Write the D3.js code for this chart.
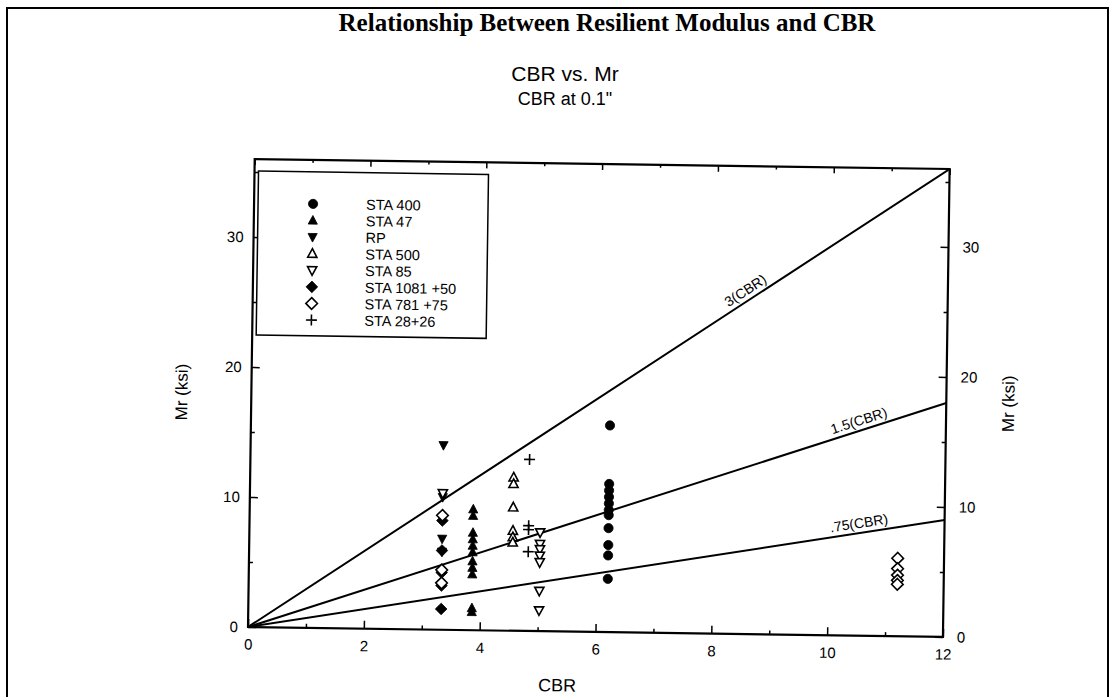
<!DOCTYPE html>
<html>
<head>
<meta charset="utf-8">
<script src="https://cdn.jsdelivr.net/npm/d3@7"></script>
<style>
  body { margin: 0; background: #fff; }
  text { font-family: "Liberation Sans", Arial, sans-serif; fill: #000; }
</style>
</head>
<body>
<script>
// CBR vs Mr scatter, redrawn from a scanned figure

//axis ticks
var xMajor = [0, 2, 4, 6, 8, 10, 12];
var xMinor = [1, 3, 5, 7, 9, 11];
var yMajor = [0, 10, 20, 30];
var yMinor = [5, 15, 25, 35];

//legend labels, same order as the series below
var seriesNames = ["STA 400", "STA 47", "RP", "STA 500", "STA 85", "STA 1081 +50", "STA 781 +75", "STA 28+26"];
var seriesShapes = ["circle", "triUp", "triDown", "triUpOpen", "triDownOpen", "diamond", "diamondOpen", "plus"];

//points as [CBR, Mr (ksi)]
var sta400 = [[6.2,15.9],[6.2,11.4],[6.2,10.9],[6.2,10.4],[6.2,9.9],[6.2,9.4],[6.2,9.0],[6.2,8.0],[6.2,6.7],[6.2,5.9],[6.2,4.1]];
var sta47 = [[3.86,9.3],[3.86,8.8],[3.86,7.5],[3.86,7.0],[3.86,6.5],[3.86,6.0],[3.86,5.3],[3.86,4.8],[3.86,4.3],[3.86,1.7],[3.86,1.4]];
var rp = [[3.33,14.2],[3.33,10.2],[3.33,7.0],[3.33,6.0]];
var sta500 = [[4.55,11.8],[4.55,11.3],[4.55,9.5],[4.55,7.7],[4.55,7.2],[4.55,6.8]];
var sta85 = [[3.33,10.5],[5.02,7.6],[5.02,6.7],[5.02,6.3],[5.02,5.8],[5.02,5.3],[5.02,3.1],[5.02,1.6]];
var sta1081 = [[3.33,8.4],[3.33,6.1],[3.33,4.4],[3.33,3.4],[3.33,1.6]];
var sta781 = [[3.33,8.8],[3.33,4.6],[3.33,3.6],[11.2,6.0],[11.2,5.2],[11.2,4.7],[11.2,4.3],[11.2,4.0]];
var sta2826 = [[4.82,13.2],[4.82,8.1],[4.82,7.8],[4.82,6.1]];
var seriesData = [sta400, sta47, rp, sta500, sta85, sta1081, sta781, sta2826];

//reference lines Mr = k * CBR, label position along CBR
var lineFactors = [3, 1.5, 0.75];
var lineLabels = ["3(CBR)", "1.5(CBR)", ".75(CBR)"];
var lineLabelAt = [8.6, 10.55, 10.55];

var width = 1115, height = 697;
var left = 248, bottom = 627, plotW = 695, plotH = 468;

var svg = d3.select("body").append("svg")
    .attr("width", width)
    .attr("height", height);

//page frame
svg.append("path")
    .attr("d", "M7,697 V8 H1108 V697")
    .attr("fill", "none")
    .attr("stroke", "#000")
    .attr("stroke-width", 2);

//titles
svg.append("text")
    .attr("x", 607).attr("y", 31)
    .attr("text-anchor", "middle")
    .style("font-family", "'Liberation Serif', 'Times New Roman', serif")
    .style("font-weight", "bold")
    .style("font-size", "25px")
    .text("Relationship Between Resilient Modulus and CBR");

svg.append("text")
    .attr("x", 565).attr("y", 81)
    .attr("text-anchor", "middle")
    .style("font-size", "21px")
    .text("CBR vs. Mr");

svg.append("text")
    .attr("x", 565).attr("y", 105)
    .attr("text-anchor", "middle")
    .style("font-size", "18px")
    .text("CBR at 0.1\"");

//the scan is tilted a little, so the plot group is too
var g = svg.append("g")
    .attr("transform", "rotate(0.82," + left + "," + bottom + ")");

var x = d3.scaleLinear().domain([0, 12]).range([left, left + plotW]);
var y = d3.scaleLinear().domain([0, 36]).range([bottom, bottom - plotH]);

g.append("defs").append("clipPath").attr("id", "plotclip")
    .append("rect")
    .attr("x", x(0)).attr("y", y(36))
    .attr("width", plotW).attr("height", plotH);

//ticks, all pointing inwards
function drawAxis(axis, tx, ty, labels){
    var a = g.append("g")
        .attr("transform", "translate(" + tx + "," + ty + ")")
        .call(axis);
    a.select(".domain").remove();
    a.selectAll("line").attr("stroke", "#000").attr("stroke-width", 1.5);
    a.selectAll("text").style("font-size", "15px").style("font-family", "'Liberation Sans', Arial, sans-serif");
    if (!labels) a.selectAll("text").remove();
    return a;
}

drawAxis(d3.axisBottom(x).tickValues(xMajor).tickSize(-8).tickPadding(12).tickFormat(d3.format("d")), 0, bottom, true);
drawAxis(d3.axisBottom(x).tickValues(xMinor).tickSize(-4), 0, bottom, false);
drawAxis(d3.axisTop(x).tickValues(xMajor).tickSize(-6), 0, y(36), false);
drawAxis(d3.axisTop(x).tickValues(xMinor).tickSize(-3), 0, y(36), false);
drawAxis(d3.axisLeft(y).tickValues(yMajor).tickSize(-8).tickPadding(10), left, 0, true);
drawAxis(d3.axisLeft(y).tickValues(yMinor).tickSize(-4), left, 0, false);
drawAxis(d3.axisRight(y).tickValues(yMajor).tickSize(-8).tickPadding(14), left + plotW, 0, true);
drawAxis(d3.axisRight(y).tickValues(yMinor).tickSize(-4), left + plotW, 0, false);

//plot box
g.append("rect")
    .attr("x", x(0)).attr("y", y(36))
    .attr("width", plotW).attr("height", plotH)
    .attr("fill", "none")
    .attr("stroke", "#000")
    .attr("stroke-width", 2.2);

//axis titles
g.append("text")
    .attr("x", x(5.35)).attr("y", bottom + 60)
    .attr("text-anchor", "middle")
    .style("font-size", "18px")
    .text("CBR");

g.append("text")
    .attr("transform", "translate(" + (left - 64) + "," + y(18) + ") rotate(-90)")
    .attr("text-anchor", "middle")
    .style("font-size", "17px")
    .text("Mr (ksi)");

g.append("text")
    .attr("transform", "translate(" + (left + plotW + 68) + "," + y(18) + ") rotate(-90)")
    .attr("text-anchor", "middle")
    .style("font-size", "17px")
    .text("Mr (ksi)");

//reference lines
var lines = g.append("g").attr("clip-path", "url(#plotclip)");
lineFactors.forEach(function(k, i){
    lines.append("line")
        .attr("x1", x(0)).attr("y1", y(0))
        .attr("x2", x(12)).attr("y2", y(12 * k))
        .attr("stroke", "#000")
        .attr("stroke-width", 2);

    var cx = lineLabelAt[i];
    var px = x(cx), py = y(k * cx);
    var ang = Math.atan2(y(k * 12) - y(0), x(12) - x(0)) * 180 / Math.PI;
    g.append("text")
        .attr("transform", "translate(" + px + "," + py + ") rotate(" + ang + ") translate(0,-5)")
        .attr("text-anchor", "middle")
        .style("font-size", "14px")
        .text(lineLabels[i]);
});

//marker shapes
function markerPath(shape){
    switch (shape){
        case "circle": return "M4.6,0A4.6,4.6 0 1,1 -4.6,0A4.6,4.6 0 1,1 4.6,0Z";
        case "triUp": case "triUpOpen": return "M0,-5L4.6,3.6L-4.6,3.6Z";
        case "triDown": case "triDownOpen": return "M0,5L4.6,-3.6L-4.6,-3.6Z";
        case "diamond": case "diamondOpen": return "M0,-5.8L5.8,0L0,5.8L-5.8,0Z";
        case "plus": return "M-5.5,0H5.5M0,-5.5V5.5";
    }
}
function markerStyle(sel, shape){
    var open = /Open$/.test(shape);
    if (shape == "plus"){
        sel.attr("fill", "none").attr("stroke", "#000").attr("stroke-width", 1.6);
    } else if (open){
        sel.attr("fill", "#fff").attr("stroke", "#000").attr("stroke-width", 1.6);
    } else {
        sel.attr("fill", "#000").attr("stroke", "#000").attr("stroke-width", 0.8);
    }
}

//points
seriesData.forEach(function(pts, i){
    var shape = seriesShapes[i];
    var marks = g.append("g").attr("class", "series s" + i)
        .selectAll("path")
        .data(pts)
        .enter()
        .append("path")
        .attr("transform", function(d){ return "translate(" + x(d[0]) + "," + y(d[1]) + ")"; })
        .attr("d", markerPath(shape));
    markerStyle(marks, shape);
});

//legend
var leg = g.append("g").attr("transform", "translate(" + (left + 4) + "," + (y(36) + 12) + ")");
leg.append("rect")
    .attr("width", 230).attr("height", 164)
    .attr("fill", "#fff")
    .attr("stroke", "#000")
    .attr("stroke-width", 1.5);

var rows = leg.selectAll(".row")
    .data(seriesNames)
    .enter()
    .append("g")
    .attr("class", "row")
    .attr("transform", function(d, i){ return "translate(0," + (32 + i * 16.6) + ")"; });

rows.each(function(d, i){
    var r = d3.select(this);
    var m = r.append("path")
        .attr("transform", "translate(55,0)")
        .attr("d", markerPath(seriesShapes[i]));
    markerStyle(m, seriesShapes[i]);
    r.append("text")
        .attr("x", 108).attr("y", 5)
        .style("font-size", "14.5px")
        .text(d);
});
</script>
</body>
</html>
